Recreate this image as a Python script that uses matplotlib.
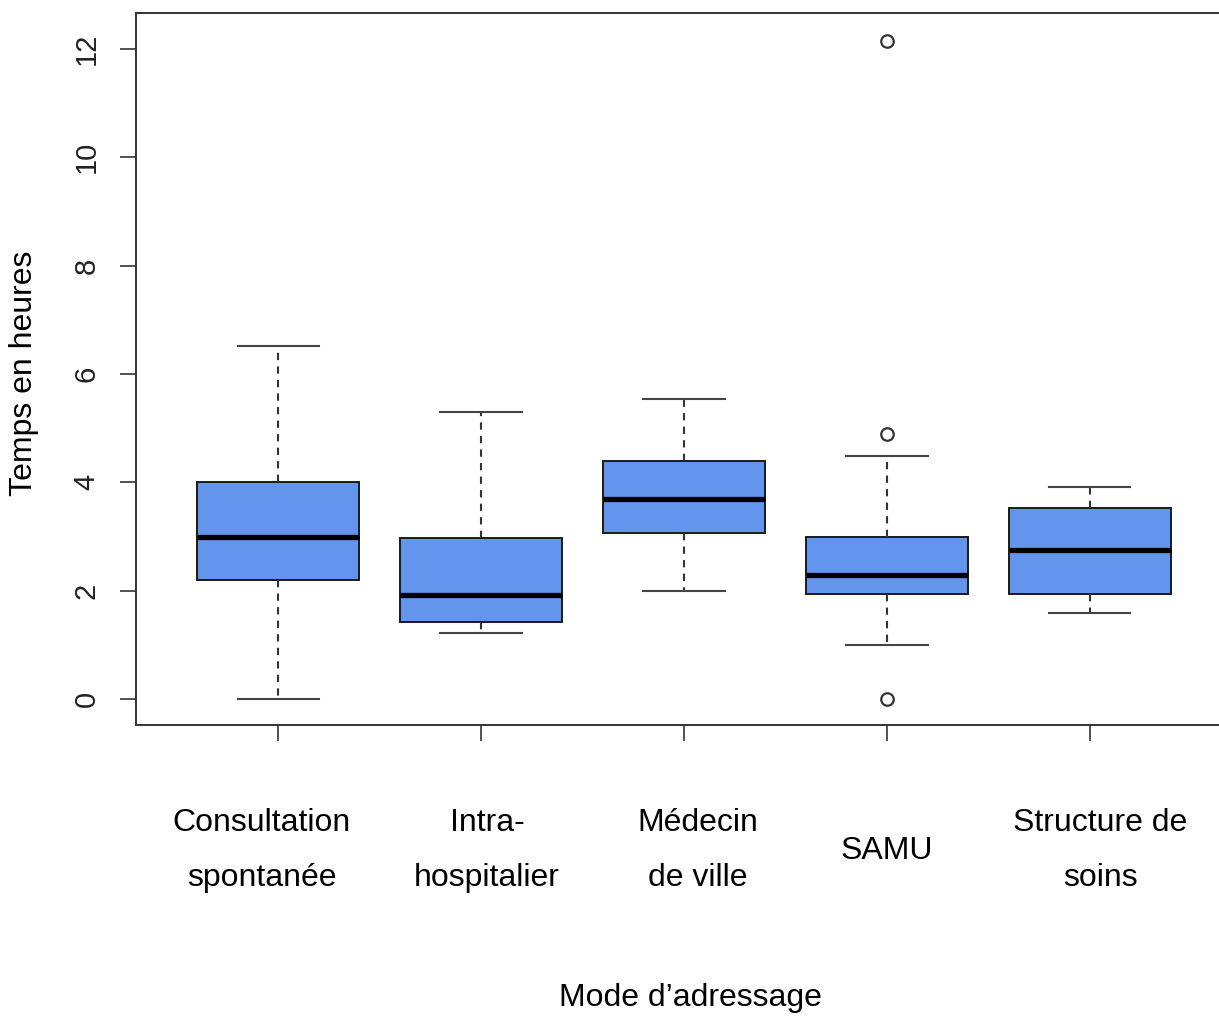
import matplotlib
matplotlib.use("Agg")
import matplotlib.pyplot as plt
import matplotlib.transforms as mtransforms

plt.rcParams['font.family'] = ['Liberation Sans', 'DejaVu Sans']

# Data
categories = ["Consultation\nspontanée", "Intra-\nhospitalier", "Médecin\nde ville",
              "SAMU", "Structure de\nsoins"]
whisker_low = [0.0, 1.22, 1.99, 1.0, 1.59]
q1 = [2.2, 1.42, 3.06, 1.94, 1.94]
medians = [2.99, 1.92, 3.69, 2.29, 2.75]
q3 = [4.0, 2.97, 4.39, 2.99, 3.53]
whisker_high = [6.52, 5.3, 5.54, 4.49, 3.91]
outliers = [[], [], [], [12.15, 4.89, 0.0], []]

# small horizontal offsets of the category labels (as in the original)
label_dx = [-0.08, 0.03, 0.07, 0.0, 0.05]

stats = []
for i in range(len(categories)):
    stats.append({
        'whislo': whisker_low[i], 'q1': q1[i], 'med': medians[i],
        'q3': q3[i], 'whishi': whisker_high[i], 'fliers': outliers[i],
    })

fig = plt.figure(figsize=(12.19, 10.16), dpi=100)
ax = fig.add_axes([0.1116, 0.2864, 0.899, 0.7008])

positions = list(range(1, len(categories) + 1))
ax.bxp(stats, positions=positions, widths=0.8, patch_artist=True,
       boxprops=dict(facecolor='#6495ED', edgecolor='#1a1a1a', linewidth=1.4),
       medianprops=dict(color='black', linewidth=3.8, solid_capstyle='butt'),
       whiskerprops=dict(color='#333333', linewidth=1.5, linestyle=(0, (3.5, 3))),
       capprops=dict(color='#444444', linewidth=1.5),
       capwidths=0.4,
       flierprops=dict(marker='o', markersize=9, markerfacecolor='none',
                       markeredgecolor='#333333', markeredgewidth=1.6))

ax.set_xlim(0.30, 5.70)
ax.set_ylim(-0.48, 12.66)

for sp in ax.spines.values():
    sp.set_color('#333333')
    sp.set_linewidth(1.4)

ax.set_yticks([0, 2, 4, 6, 8, 10, 12])
ax.set_yticklabels(['0', '2', '4', '6', '8', '10', '12'], rotation=90, va='center',
                   fontsize=21, color='#222222')
ax.set_xticks(positions)
ax.set_xticklabels([])
ax.tick_params(axis='both', direction='out', length=11.5, width=1.2, color='#333333')
ax.tick_params(axis='y', pad=14)

trans = mtransforms.blended_transform_factory(ax.transData, fig.transFigure)
for i, lab in enumerate(categories):
    ax.text(positions[i] + label_dx[i], 0.1628, lab, transform=trans,
            ha='center', va='center', fontsize=23, linespacing=2.07)

fig.text(0.566, 0.0177, "Mode d\u2019adressage", ha='center', va='center', fontsize=23)
fig.text(0.0197, 0.633, "Temps en heures", ha='center', va='center',
         rotation=90, fontsize=23)

fig.savefig("out.png", dpi=100)
